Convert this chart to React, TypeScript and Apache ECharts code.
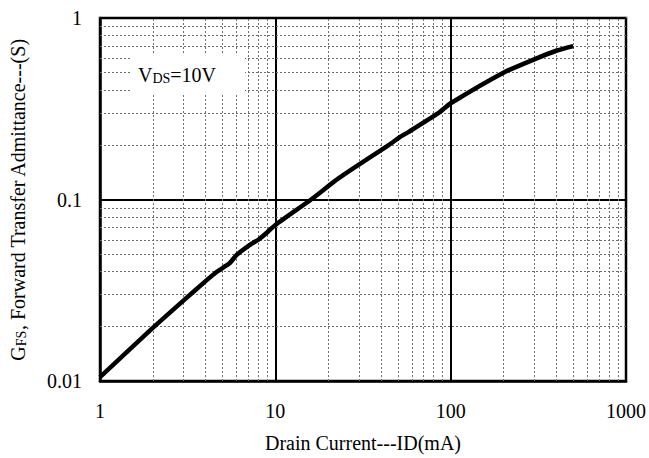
import React, { useEffect, useRef } from "react";
import * as echarts from "echarts";

// Forward transfer admittance vs drain current (log-log)
const drainCurrent = [1, 2, 3, 4, 4.64, 5.48, 6, 7.13, 8, 9, 10, 16, 23, 44.5, 51.8, 57.7, 85.4, 100, 200, 300, 400, 500];
const admittance = [0.0105, 0.0196, 0.0278, 0.0355, 0.04, 0.0445, 0.0494, 0.0561, 0.06, 0.066, 0.0724, 0.1, 0.131, 0.2, 0.222, 0.236, 0.3, 0.339, 0.5, 0.592, 0.66, 0.7];

const xTickLabels = ["1", "10", "100", "1000"];
const yTickLabels = ["0.01", "0.1", "1"];

// Minor grid positions inside each decade
const xMinor = [2, 3, 4, 5, 6, 7, 8, 9, 20, 30, 40, 50, 60, 70, 80, 90, 200, 300, 400, 500, 600, 700, 800, 900];
const yMinor = [0.02, 0.03, 0.04, 0.05, 0.06, 0.07, 0.08, 0.09, 0.2, 0.3, 0.4, 0.5, 0.6, 0.7, 0.8, 0.9];

const FONT = "Liberation Serif";

function labelFor(list: string[], min: number) {
  return (v: number) => {
    const i = Math.round(Math.log10(v) - Math.log10(min));
    return list[i] ?? "";
  };
}

// Big letter + small subscript-like letters sharing the bottom line
const richBig = { fontFamily: FONT, fontSize: 20, lineHeight: 20, verticalAlign: "bottom" };
const richSmall = { fontFamily: FONT, fontSize: 14, lineHeight: 14, verticalAlign: "bottom" };

export default function App() {
  const ref = useRef<HTMLDivElement>(null);

  useEffect(() => {
    document.body.style.margin = "0";
    if (!ref.current) return;
    const chart = echarts.init(ref.current, undefined, { renderer: "svg" });
    const minorStyle = { color: "#6e6e6e", width: 1, type: [2, 2] as number[] };

    chart.setOption({
      animation: false,
      backgroundColor: "#ffffff",
      textStyle: { fontFamily: FONT },
      grid: {
        left: 100,
        top: 18,
        right: 21,
        bottom: 77,
        show: true,
        borderColor: "#808080",
        borderWidth: 3,
        backgroundColor: "transparent",
      },
      xAxis: {
        type: "log",
        logBase: 10,
        min: 1,
        max: 1000,
        name: "Drain Current---ID(mA)",
        nameLocation: "middle",
        nameGap: 52,
        nameTextStyle: { fontFamily: FONT, fontSize: 20, color: "#000" },
        axisLine: { show: true, lineStyle: { color: "#000", width: 2.5 } },
        axisTick: { show: false },
        minorTick: { show: false },
        axisLabel: {
          fontFamily: FONT,
          fontSize: 20,
          color: "#000",
          margin: 20,
          formatter: labelFor(xTickLabels, 1),
        },
        splitLine: { show: true, lineStyle: { color: "#000", width: 2 } },
      },
      yAxis: {
        type: "log",
        logBase: 10,
        min: 0.01,
        max: 1,
        name: "{g|G}{s|FS}{g|, Forward Transfer Admittance---(S)}",
        nameLocation: "middle",
        nameGap: 72,
        nameTextStyle: {
          fontFamily: FONT,
          color: "#000",
          rich: {
            g: { ...richBig, color: "#000" },
            s: { ...richSmall, color: "#000" },
          },
        },
        axisLine: { show: true, lineStyle: { color: "#000", width: 2.5 } },
        axisTick: { show: false },
        minorTick: { show: false },
        axisLabel: {
          fontFamily: FONT,
          fontSize: 20,
          color: "#000",
          margin: 18,
          formatter: labelFor(yTickLabels, 0.01),
        },
        splitLine: { show: true, lineStyle: { color: "#000", width: 2 } },
      },
      series: [
        {
          // minor grid lines
          type: "line",
          data: [],
          silent: true,
          z: 1,
          markLine: {
            silent: true,
            symbol: "none",
            label: { show: false },
            lineStyle: minorStyle,
            emphasis: { disabled: true },
            data: [
              ...xMinor.map((v) => ({ xAxis: v, lineStyle: minorStyle })),
              ...yMinor.map((v) => ({ yAxis: v, lineStyle: minorStyle })),
            ],
          },
        },
        {
          type: "line",
          data: drainCurrent.map((x, i) => [x, admittance[i]]),
          showSymbol: false,
          symbol: "none",
          smooth: 0.2,
          z: 5,
          lineStyle: { color: "#000", width: 4.5 },
        },
      ],
      graphic: [
        {
          type: "rect",
          z: 50,
          shape: { x: 132, y: 55, width: 113, height: 40 },
          style: { fill: "#ffffff" },
        },
        {
          type: "text",
          z: 51,
          x: 138,
          y: 75,
          style: {
            text: "{v|V}{s|DS}{v|=10V}",
            verticalAlign: "middle",
            rich: {
              v: { ...richBig, fill: "#000" },
              s: { ...richSmall, fill: "#000" },
            },
          },
        },
      ],
    });

    return () => chart.dispose();
  }, []);

  return <div ref={ref} style={{ width: 649, height: 458 }} />;
}
